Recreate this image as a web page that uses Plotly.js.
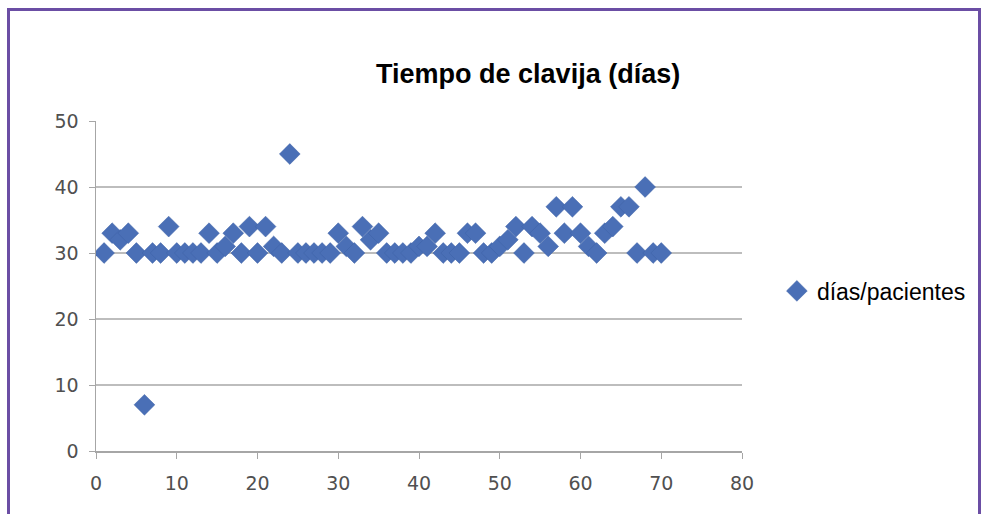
<!DOCTYPE html>
<html>
<head>
<meta charset="utf-8">
<script src="https://cdn.plot.ly/plotly-3.0.1.min.js"></script>
<style>
  html, body { margin: 0; padding: 0; background: #ffffff; }
  #wrap { position: relative; width: 989px; height: 514px; overflow: hidden; }
  #chart { position: absolute; left: 0; top: 0; width: 989px; height: 514px; }
  #frame { position: absolute; left: 7px; top: 8px; width: 974px; height: 520px;
           border: 3px solid #6b4ea4; box-sizing: border-box; pointer-events: none; }
</style>
</head>
<body>
<div id="wrap">
  <div id="chart"></div>
  <div id="frame"></div>
</div>
<script>
const patients = [1,2,3,4,5,6,7,8,9,10,11,12,13,14,15,16,17,18,19,20,21,22,23,24,25,26,27,28,29,30,31,32,33,34,35,36,37,38,39,40,41,42,43,44,45,46,47,48,49,50,51,52,53,54,55,56,57,58,59,60,61,62,63,64,65,66,67,68,69,70];
const days = [30,33,32,33,30,7,30,30,34,30,30,30,30,33,30,31,33,30,34,30,34,31,30,45,30,30,30,30,30,33,31,30,34,32,33,30,30,30,30,31,31,33,30,30,30,33,33,30,30,31,32,34,30,34,33,31,37,33,37,33,31,30,33,34,37,37,30,40,30,30];
const seriesName = 'días/pacientes';
const chartTitle = 'Tiempo de clavija (días)';
const xTicks = [0,10,20,30,40,50,60,70,80];
const yTicks = [0,10,20,30,40,50];

const trace = {
  x: patients, y: days, type: 'scatter', mode: 'markers', name: seriesName,
  marker: { symbol: 'diamond', size: 16, color: '#4a6fb6', line: { color: '#3f62a6', width: 0.5 } }
};

const tickFont = { family: 'DejaVu Sans, sans-serif', size: 19, color: '#505050' };

const layout = {
  width: 989, height: 514,
  paper_bgcolor: 'rgba(0,0,0,0)', plot_bgcolor: 'rgba(0,0,0,0)',
  margin: { l: 96, r: 247, t: 121, b: 63 },
  title: { text: '<b>' + chartTitle + '</b>', xref: 'container', x: 0.534, xanchor: 'center',
           yref: 'container', y: 0.857, yanchor: 'middle',
           font: { family: 'Liberation Sans, Arial, sans-serif', size: 27, color: '#000' } },
  showlegend: true,
  legend: { x: 1.054, xanchor: 'left', y: 0.485, yanchor: 'middle',
            font: { family: 'Liberation Sans, Arial, sans-serif', size: 23, color: '#000' },
            bgcolor: 'rgba(0,0,0,0)' },
  xaxis: { range: [0, 80], tickvals: xTicks, ticktext: xTicks.map(String),
           showgrid: false, zeroline: false, showline: true, linecolor: '#a6a6a6', linewidth: 1.5,
           ticks: 'outside', ticklen: 6, tickcolor: '#a6a6a6', ticklabelstandoff: 9,
           tickfont: tickFont },
  yaxis: { range: [0, 50], tickvals: yTicks, ticktext: yTicks.map(String),
           showgrid: true, gridcolor: '#bdbdbd', gridwidth: 2, zeroline: false,
           showline: true, linecolor: '#a6a6a6', linewidth: 1.5,
           ticks: 'outside', ticklen: 6, tickcolor: '#a6a6a6', ticklabelstandoff: 6,
           tickfont: tickFont }
};

Plotly.newPlot('chart', [trace], layout, { displayModeBar: false, staticPlot: true });
</script>
</body>
</html>
